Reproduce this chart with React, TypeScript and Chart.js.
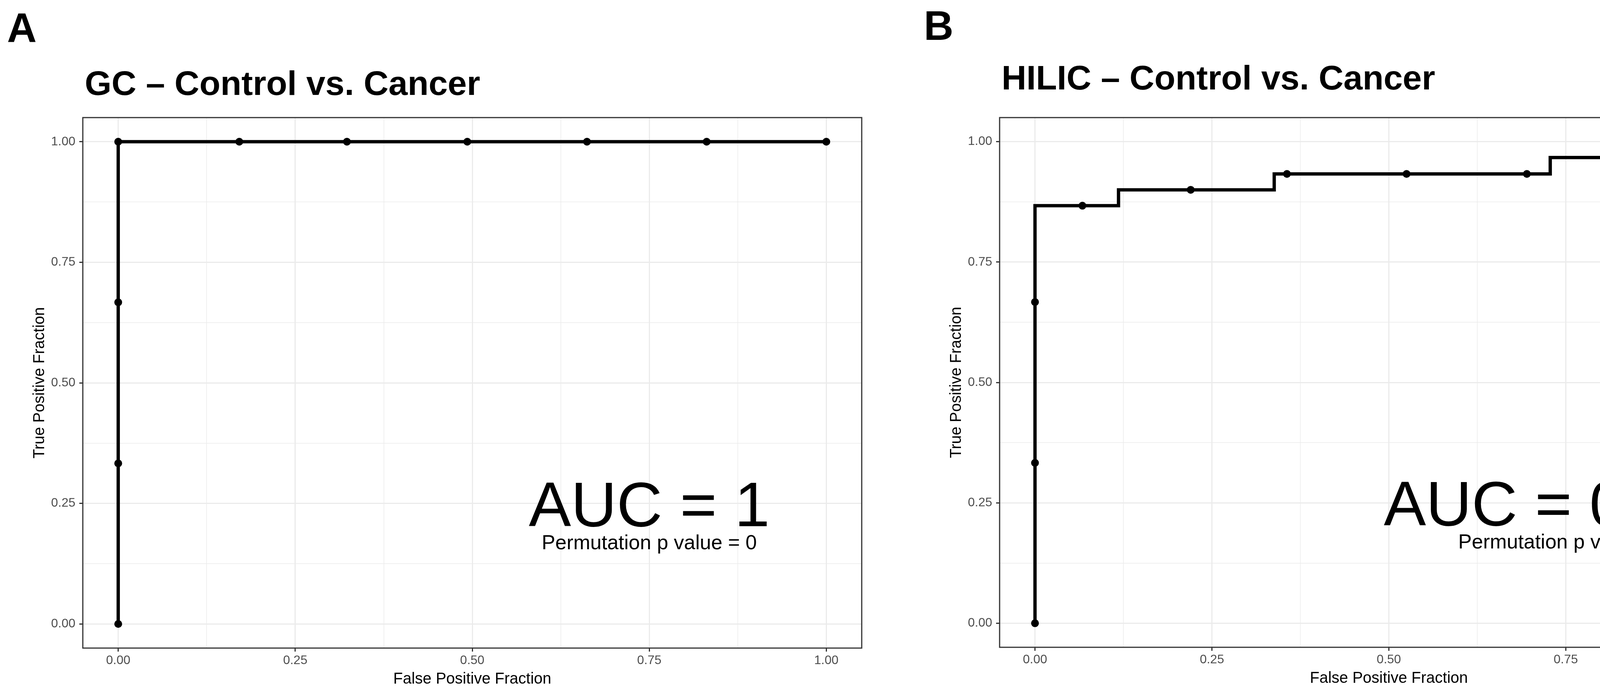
import React, { useEffect, useRef } from "react";
import { Chart, registerables } from "chart.js";

Chart.register(...registerables);

// ---------- data ----------
const TICK_VALUES = [0, 0.125, 0.25, 0.375, 0.5, 0.625, 0.75, 0.875, 1];
const AXIS_MIN = -0.05;
const AXIS_MAX = 1.05;

// Panel A: GC
const GC_ROC_FPR = [0, 0, 1];
const GC_ROC_TPR = [0, 1, 1];
const GC_CUT_FPR = [0, 0, 0, 0, 0.171, 0.323, 0.493, 0.662, 0.831, 1];
const GC_CUT_TPR = [0, 0.333, 0.667, 1, 1, 1, 1, 1, 1, 1];

// Panel B: HILIC
const HILIC_ROC_FPR = [0, 0, 0.118, 0.338, 0.728, 1];
const HILIC_ROC_TPR = [0, 0.867, 0.9, 0.933, 0.967, 1];
const HILIC_CUT_FPR = [0, 0, 0, 0.067, 0.22, 0.356, 0.525, 0.695, 0.847, 1];
const HILIC_CUT_TPR = [0, 0.333, 0.667, 0.867, 0.9, 0.933, 0.933, 0.933, 0.967, 1];

const PANEL_LETTERS = ["A", "B"];
const PANEL_TITLES = ["GC \u2013 Control vs. Cancer", "HILIC \u2013 Control vs. Cancer"];
const AUC_LABELS = ["AUC = 1", "AUC = 0.927"];
const PERM_LABELS = ["Permutation p value = 0", "Permutation p value = 0"];
const ANNOT_X = [0.75, 0.75];
const AUC_Y = [0.25, 0.25];
const PERM_Y = [0.17, 0.17];
const X_TITLE = "False Positive Fraction";
const Y_TITLE = "True Positive Fraction";

// ---------- style / layout ----------
const W = 4574;
const H = 1774;
const FONT = '"Liberation Sans", Arial, Helvetica, sans-serif';

const LAYOUTS = [
  { left: 212, right: 2206, top: 301, bottom: 1659, letterX: 18, letterY: 108, titleY: 243 },
  { left: 2559, right: 4552, top: 301, bottom: 1657, letterX: 2365, letterY: 102, titleY: 229 },
];

const isMajor = (v: number) => Math.abs(v * 4 - Math.round(v * 4)) < 1e-6;

const decoPlugin = {
  id: "deco",
  afterDraw(chart: any, _args: any, opts: any) {
    const { ctx, chartArea: a, scales } = chart;
    ctx.save();
    // annotations
    ctx.fillStyle = "#000000";
    ctx.textAlign = "center";
    ctx.textBaseline = "alphabetic";
    const ax = scales.x.getPixelForValue(opts.annX);
    ctx.font = `162px ${FONT}`;
    ctx.fillText(opts.auc, ax, scales.y.getPixelForValue(opts.aucY) + 162 * 0.358);
    ctx.font = `52px ${FONT}`;
    ctx.fillText(opts.perm, ax, scales.y.getPixelForValue(opts.permY) + 52 * 0.358);

    // panel border
    ctx.strokeStyle = "#333333";
    ctx.lineWidth = 3;
    ctx.strokeRect(a.left, a.top, a.right - a.left, a.bottom - a.top);

    // panel letter
    ctx.textAlign = "left";
    ctx.font = `bold 105px ${FONT}`;
    ctx.fillText(opts.letter, opts.letterX, opts.letterY);

    // title
    ctx.font = `bold 88px ${FONT}`;
    ctx.fillText(opts.title, a.left + 5, opts.titleY);

    // axis titles
    ctx.font = `40px ${FONT}`;
    ctx.textAlign = "center";
    ctx.fillText(X_TITLE, (a.left + a.right) / 2, a.bottom + 91);
    ctx.save();
    ctx.translate(a.left - 99, (a.top + a.bottom) / 2);
    ctx.rotate(-Math.PI / 2);
    ctx.fillText(Y_TITLE, 0, 0);
    ctx.restore();

    ctx.restore();
  },
};

function axisOptions(kind: "x" | "y", size: number) {
  return {
    type: "linear" as const,
    min: AXIS_MIN,
    max: AXIS_MAX,
    afterBuildTicks: (scale: any) => {
      scale.ticks = TICK_VALUES.map((v) => ({ value: v }));
    },
    afterFit: (scale: any) => {
      if (kind === "y") scale.width = size;
      else scale.height = size;
    },
    border: { display: false },
    grid: {
      color: "#EBEBEB",
      lineWidth: (c: any) => (c.tick && isMajor(c.tick.value) ? 3 : 1.5),
      drawTicks: true,
      tickLength: 9,
      tickWidth: (c: any) => (c.tick && isMajor(c.tick.value) ? 3 : 0),
      tickColor: (c: any) => (c.tick && isMajor(c.tick.value) ? "#333333" : "rgba(0,0,0,0)"),
    },
    ticks: {
      autoSkip: false,
      maxRotation: 0,
      minRotation: 0,
      padding: kind === "y" ? 10 : 4,
      color: "#4D4D4D",
      font: { family: FONT, size: 32 },
      callback: (v: any) => (isMajor(Number(v)) ? Number(v).toFixed(2) : ""),
    },
  };
}

function RocPanel({ idx, rocX, rocY, cutX, cutY }: any) {
  const ref = useRef<HTMLCanvasElement | null>(null);
  useEffect(() => {
    const L = LAYOUTS[idx];
    const chart = new Chart(ref.current as HTMLCanvasElement, {
      type: "scatter",
      data: {
        datasets: [
          {
            data: cutX.map((x: number, i: number) => ({ x, y: cutY[i] })),
            showLine: false,
            pointRadius: 10,
            pointBackgroundColor: "#000000",
            pointBorderColor: "#000000",
            pointBorderWidth: 0,
          },
          {
            data: rocX.map((x: number, i: number) => ({ x, y: rocY[i] })),
            showLine: true,
            stepped: "before",
            borderColor: "#000000",
            borderWidth: 8.5,
            pointRadius: 0,
            fill: false,
          },
        ],
      } as any,
      options: {
        animation: false,
        responsive: false,
        devicePixelRatio: 1,
        events: [],
        layout: {
          padding: { left: idx === 0 ? 0 : 2290, right: W - L.right, top: L.top, bottom: 0 },
        },
        scales: {
          x: axisOptions("x", H - L.bottom),
          y: axisOptions("y", idx === 0 ? L.left : L.left - 2290),
        },
        plugins: {
          legend: { display: false },
          tooltip: { enabled: false },
          title: { display: false },
          deco: {
            letter: PANEL_LETTERS[idx],
            title: PANEL_TITLES[idx],
            letterX: L.letterX,
            letterY: L.letterY,
            titleY: L.titleY,
            auc: AUC_LABELS[idx],
            perm: PERM_LABELS[idx],
            annX: ANNOT_X[idx],
            aucY: AUC_Y[idx],
            permY: PERM_Y[idx],
          },
        } as any,
      },
      plugins: [decoPlugin],
    });
    return () => chart.destroy();
  }, []);
  return (
    <canvas
      ref={ref}
      width={W}
      height={H}
      style={{ position: "absolute", left: 0, top: 0, width: W, height: H }}
    />
  );
}

export default function App() {
  return (
    <div style={{ position: "absolute", left: 0, top: 0, width: W, height: H, background: "#ffffff" }}>
      <RocPanel idx={0} rocX={GC_ROC_FPR} rocY={GC_ROC_TPR} cutX={GC_CUT_FPR} cutY={GC_CUT_TPR} />
      <RocPanel idx={1} rocX={HILIC_ROC_FPR} rocY={HILIC_ROC_TPR} cutX={HILIC_CUT_FPR} cutY={HILIC_CUT_TPR} />
    </div>
  );
}
